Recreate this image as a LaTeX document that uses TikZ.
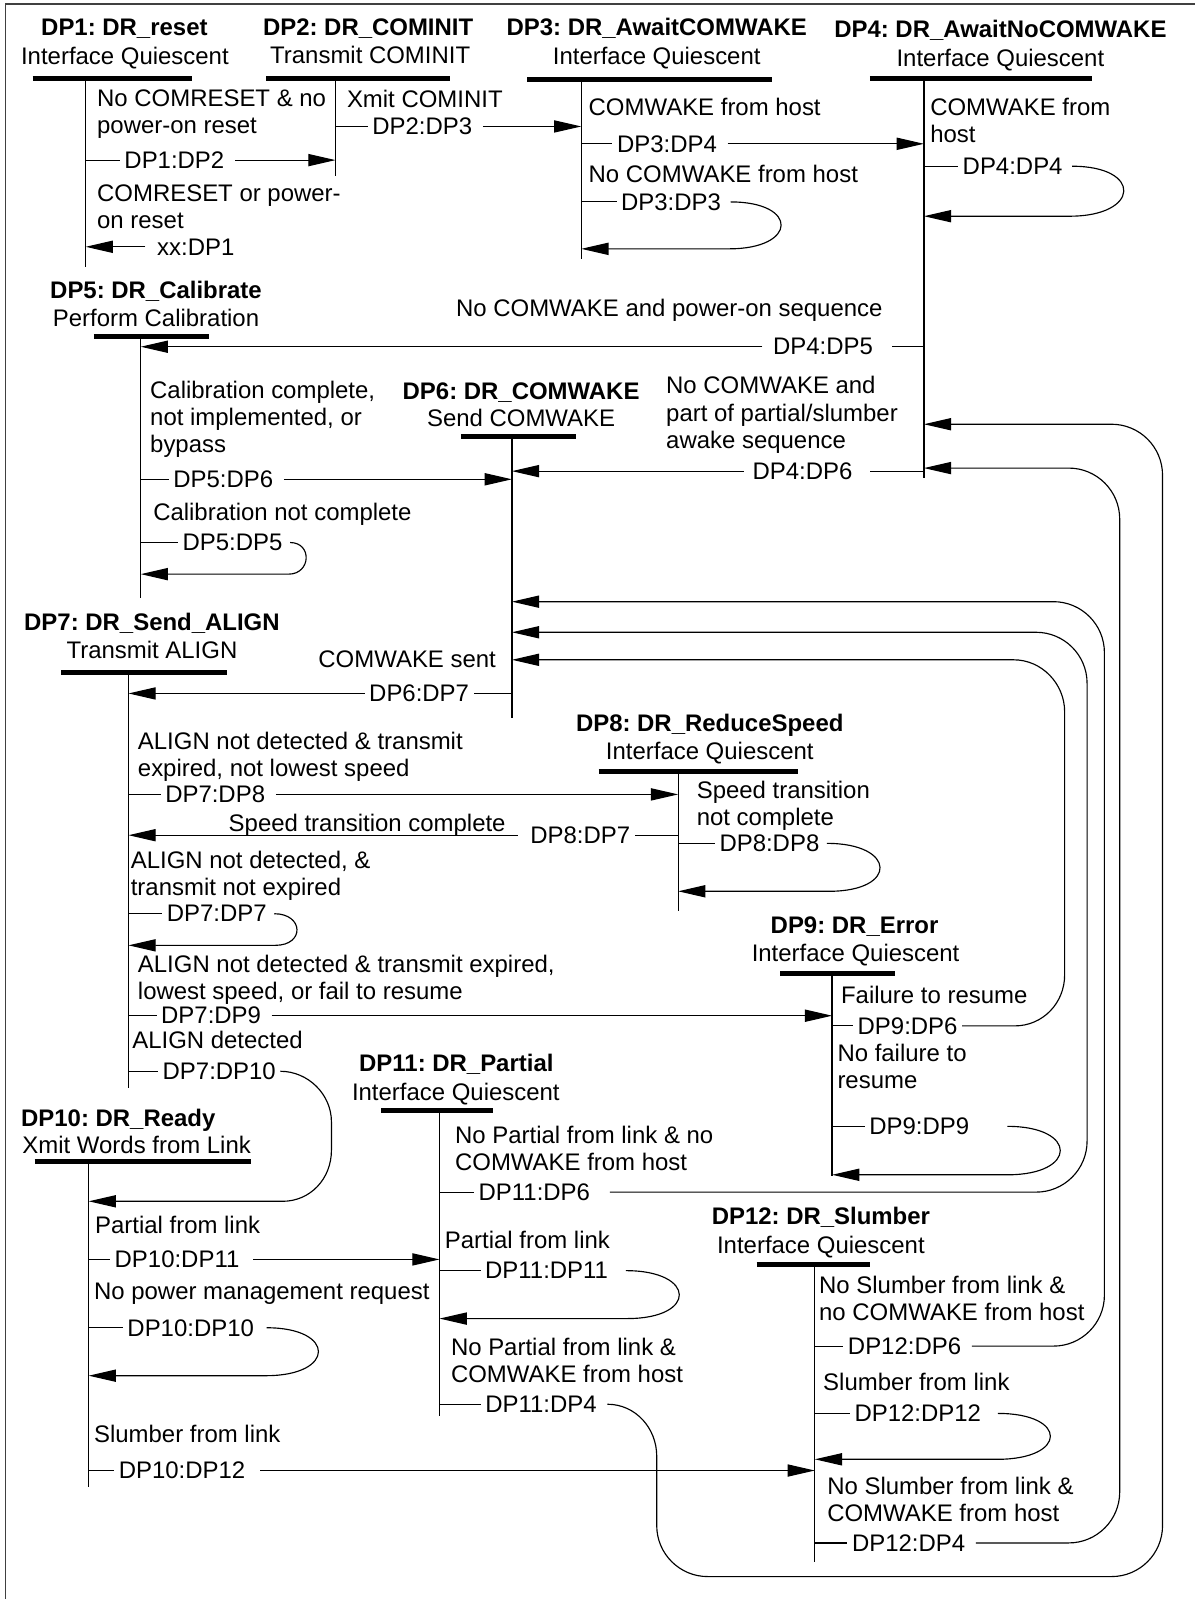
\documentclass[tikz,border=0pt]{standalone}
\usepackage{fontspec}
\setmainfont{Liberation Sans}
\usetikzlibrary{arrows.meta}
\frenchspacing
\tikzset{
    title/.style ={
        anchor=base,
        inner sep=0pt,
        font=\fontsize{16.7}{18.9}\selectfont\bfseries
    },
    sub/.style ={
        anchor=base,
        inner sep=0pt,
        font=\fontsize{16.7}{18.9}\selectfont
    },
    bar/.style ={
        line width=3.5pt
    },
    life/.style ={
        line width=0.9pt
    },
    cond/.style ={
        anchor=north west,
        align=left,
        inner sep=0pt,
        font=\fontsize{16.7}{18.9}\selectfont
    },
    tr/.style ={
        inner xsep=3pt,
        inner ysep=1pt,
        font=\fontsize{16.7}{18.9}\selectfont
    },
    link/.style ={
        line width=0.8pt
    },
    go/.style ={
        line width=0.8pt,
        -{Triangle[length=19pt,width=8.5pt]}
    }
}

\begin{document}
\frenchspacing
\begin{tikzpicture}[x=0.025cm,y=-0.025cm]
    \useasboundingbox (0,0) rectangle (1172,1568);
    \draw[line width=0.9pt,black!75] (5.5,1568) -- (5.5,4) -- (1172,4);

    % states: title, action, bar and lifeline
    \node[title] (t1) at (122,35) {DP1: DR\_reset};
    \node[sub] (s1) at (122.5,63) {Interface Quiescent};
    \coordinate (v1) at (84,77);
    \draw[bar] (32,77) -- (188,77);
    \draw[life] (v1) -- ++(0,185);

    \node[title] (t2) at (361,35) {DP2: DR\_COMINIT};
    \node[sub] (s2) at (363,62) {Transmit COMINIT};
    \coordinate (v2) at (329,77);
    \draw[bar] (261,77) -- (441,77);
    \draw[life] (v2) -- ++(0,96);

    \node[title] (t3) at (644,35) {DP3: DR\_AwaitCOMWAKE};
    \node[sub] (s3) at (644,63) {Interface Quiescent};
    \coordinate (v3) at (570,78);
    \draw[bar] (517,78) -- (757,78);
    \draw[life] (v3) -- ++(0,176);

    \node[title] (t4) at (981,37) {DP4: DR\_AwaitNoCOMWAKE};
    \node[sub] (s4) at (981,65) {Interface Quiescent};
    \coordinate (v4) at (906,77);
    \draw[bar] (853,77) -- (1071,77);
    \draw[life] (v4) -- ++(0,392);

    \node[title] (t5) at (153,293) {DP5: DR\_Calibrate};
    \node[sub] (s5) at (153,320) {Perform Calibration};
    \coordinate (v5) at (138,330);
    \draw[bar] (92,330) -- (205,330);
    \draw[life] (v5) -- ++(0,256);

    \node[title] (t6) at (511,392) {DP6: DR\_COMWAKE};
    \node[sub] (s6) at (511,418) {Send COMWAKE};
    \coordinate (v6) at (502,428);
    \draw[bar] (452,428) -- (565,428);
    \draw[life] (v6) -- ++(0,276);

    \node[title] (t7) at (149,618) {DP7: DR\_Send\_ALIGN};
    \node[sub] (s7) at (149,646) {Transmit ALIGN};
    \coordinate (v7) at (126,659);
    \draw[bar] (60,659) -- (223,659);
    \draw[life] (v7) -- ++(0,408);

    \node[title] (t8) at (696,717) {DP8: DR\_ReduceSpeed};
    \node[sub] (s8) at (696,745) {Interface Quiescent};
    \coordinate (v8) at (665,757);
    \draw[bar] (587,757) -- (783,757);
    \draw[life] (v8) -- ++(0,136);

    \node[title] (t9) at (838,915) {DP9: DR\_Error};
    \node[sub] (s9) at (839,943) {Interface Quiescent};
    \coordinate (v9) at (816,955);
    \draw[bar] (765,955) -- (878,955);
    \draw[life] (v9) -- ++(0,198);

    \node[title] (t10) at (116,1105) {DP10: DR\_Ready};
    \node[sub] (s10) at (134,1131) {Xmit Words from Link};
    \coordinate (v10) at (87,1139);
    \draw[bar] (34,1139) -- (246,1139);
    \draw[life] (v10) -- ++(0,319);

    \node[title] (t11) at (447.5,1051) {DP11: DR\_Partial};
    \node[sub] (s11) at (447,1079) {Interface Quiescent};
    \coordinate (v11) at (431,1089);
    \draw[bar] (374,1089) -- (483,1089);
    \draw[life] (v11) -- ++(0,300);

    \node[title] (t12) at (805,1201) {DP12: DR\_Slumber};
    \node[sub] (s12) at (805,1229) {Interface Quiescent};
    \coordinate (v12) at (799,1240);
    \draw[bar] (742,1240) -- (853,1240);
    \draw[life] (v12) -- ++(0,292);

    % DP1
    \node[cond] (c12) at (95,88) {No COMRESET \& no\\power-on reset};
    \node[tr] (dp1dp2) at (171,157) {DP1:DP2};
    \draw[link] (dp1dp2 -| v1) -- (dp1dp2);
    \draw[go] (dp1dp2.east) ++(6,0) -- (dp1dp2 -| v2);
    \node[cond] (cxx) at (95,181) {COMRESET or power-\\on reset};
    \node[tr] (xxdp1) at (192,242) {xx:DP1};
    \draw[go] (xxdp1.west) ++(-7,0) -- (xxdp1 -| v1);

    % DP2
    \node[cond] (c23) at (340,88) {Xmit COMINIT};
    \node[tr] (dp2dp3) at (414,124) {DP2:DP3};
    \draw[link] (dp2dp3 -| v2) -- (dp2dp3);
    \draw[go] (dp2dp3.east) ++(6,0) -- (dp2dp3 -| v3);

    % DP3
    \node[cond] (c34) at (577,96) {COMWAKE from host};
    \node[tr] (dp3dp4) at (654,141) {DP3:DP4};
    \draw[link] (dp3dp4 -| v3) -- (dp3dp4);
    \draw[go] (dp3dp4.east) ++(6,0) -- (dp3dp4 -| v4);
    \node[cond] (c33) at (577,162) {No COMWAKE from host};
    \node[tr] (dp3dp3) at (658,198) {DP3:DP3};
    \draw[link] (dp3dp3 -| v3) -- (dp3dp3);
    \draw[go] (dp3dp3.east) ++(5,0) .. controls +(67,0) and +(67,0) .. (715,244) -- (v3 |- 0,244);

    % DP4
    \node[cond] (c44) at (912,96) {COMWAKE from\\host};
    \node[tr] (dp4dp4) at (993,163) {DP4:DP4};
    \draw[link] (dp4dp4 -| v4) -- (dp4dp4);
    \draw[go] (dp4dp4.east) ++(5,0) .. controls +(69,0) and +(69,0) .. (1049,212) -- (v4 |- 0,212);
    \node[cond] (c45) at (447,293) {No COMWAKE and power-on sequence};
    \node[tr] (dp4dp5) at (807,340) {DP4:DP5};
    \draw[link] (dp4dp5 -| v4) -- ++(-31,0);
    \draw[go] (dp4dp5.west) ++(-6,0) -- (dp4dp5 -| v5);
    \node[cond] (c46) at (653,369) {No COMWAKE and\\part of partial/slumber\\awake sequence};
    \node[tr] (dp4dp6) at (787,462) {DP4:DP6};
    \draw[link] (dp4dp6 -| v4) -- ++(-53,0);
    \draw[go] (dp4dp6.west) ++(-4,0) -- (dp4dp6 -| v6);

    % DP5
    \node[cond] (c56) at (147,373) {Calibration complete,\\not implemented, or\\bypass};
    \node[tr] (dp5dp6) at (219,470) {DP5:DP6};
    \draw[link] (dp5dp6 -| v5) -- (dp5dp6);
    \draw[go] (dp5dp6.east) ++(6,0) -- (dp5dp6 -| v6);
    \node[cond] (c55) at (150,493) {Calibration not complete};
    \node[tr] (dp5dp5) at (228,532) {DP5:DP5};
    \draw[link] (dp5dp5 -| v5) -- (dp5dp5);
    \draw[go] (dp5dp5.east) ++(3,0) .. controls +(22,0) and +(22,0) .. (283,563) -- (v5 |- 0,563);

    % DP6
    \node[cond] (c67) at (312,638) {COMWAKE sent};
    \node[tr] (dp6dp7) at (411,680) {DP6:DP7};
    \draw[link] (dp6dp7 -| v6) -- (dp6dp7);
    \draw[go] (dp6dp7.west) -- (dp6dp7 -| v7);

    % DP7
    \node[cond] (c78) at (135,718) {ALIGN not detected \& transmit\\expired, not lowest speed};
    \node[tr] (dp7dp8) at (211,779) {DP7:DP8};
    \draw[link] (dp7dp8 -| v7) -- (dp7dp8);
    \draw[go] (dp7dp8.east) ++(6,0) -- (dp7dp8 -| v8);
    \node[cond] (c77) at (128,834) {ALIGN not detected, \&\\transmit not expired};
    \node[tr] (dp7dp7) at (212.5,896) {DP7:DP7};
    \draw[link] (dp7dp7 -| v7) -- (dp7dp7);
    \draw[go] (dp7dp7.east) ++(3,0) .. controls +(29,0) and +(29,0) .. (270,927) -- (v7 |- 0,927);
    \node[cond] (c79) at (135,936) {ALIGN not detected \& transmit expired,\\lowest speed, or fail to resume};
    \node[tr] (dp7dp9) at (207,996) {DP7:DP9};
    \draw[link] (dp7dp9 -| v7) -- (dp7dp9);
    \draw[go] (dp7dp9.east) ++(6,0) -- (dp7dp9 -| v9);
    \node[cond] (c710) at (129.5,1011) {ALIGN detected};
    \node[tr] (dp7dp10) at (215,1050.5) {DP7:DP10};
    \draw[link] (dp7dp10 -| v7) -- (dp7dp10);
    \draw[go] (dp7dp10.east) .. controls +(27,0) and +(0,-27) .. (325,1100) -- (325,1128)
        .. controls +(0,27.6) and +(27.6,0) .. (277,1178) -- (v10 |- 0,1178);

    % DP8
    \node[cond] (c87) at (224,798) {Speed transition complete};
    \node[tr] (dp8dp7) at (569,819) {DP8:DP7};
    \draw[link] (dp8dp7 -| v8) -- (dp8dp7);
    \draw[go] (dp8dp7.west) ++(-8,0) -- (dp8dp7 -| v7);
    \node[cond] (c88) at (683,766) {Speed transition\\not complete};
    \node[tr] (dp8dp8) at (754.5,827) {DP8:DP8};
    \draw[link] (dp8dp8 -| v8) -- (dp8dp8);
    \draw[go] (dp8dp8.east) ++(3,0) .. controls +(68,0) and +(68,0) .. (813,874) -- (v8 |- 0,874);

    % DP9
    \node[cond] (c96) at (824.5,967) {Failure to resume};
    \node[tr] (dp9dp6) at (890,1006) {DP9:DP6};
    \draw[link] (dp9dp6 -| v9) -- (dp9dp6);
    \draw[go] (dp9dp6.east) -- (995,1006) .. controls +(27.6,0) and +(0,27.6) .. (1044,956) -- (1044,698)
        .. controls +(0,-27.6) and +(27.6,0) .. (994,647) -- (v6 |- 0,647);
    \node[cond] (c99) at (821,1023.5) {No failure to\\resume};
    \node[tr] (dp9dp9) at (901.5,1104.5) {DP9:DP9};
    \draw[link] (dp9dp9 -| v9) -- (dp9dp9);
    \draw[go] (dp9dp9.east) ++(33,0) .. controls +(69,0) and +(69,0) .. (988,1152) -- (v9 |- 0,1152);

    % DP10
    \node[cond] (c1011) at (93,1192) {Partial from link};
    \node[tr] (dp10dp11) at (173.6,1235) {DP10:DP11};
    \draw[link] (dp10dp11 -| v10) -- (dp10dp11);
    \draw[go] (dp10dp11.east) ++(9,0) -- (dp10dp11 -| v11);
    \node[cond] (c1010) at (92,1258) {No power management request};
    \node[tr] (dp10dp10) at (187,1302) {DP10:DP10};
    \draw[link] (dp10dp10 -| v10) -- (dp10dp10);
    \draw[go] (dp10dp10.east) ++(8,0) .. controls +(68,0) and +(68,0) .. (261,1349) -- (v10 |- 0,1349);
    \node[cond] (c1012) at (92,1397) {Slumber from link};
    \node[tr] (dp10dp12) at (178.5,1442) {DP10:DP12};
    \draw[link] (dp10dp12 -| v10) -- (dp10dp12);
    \draw[go] (dp10dp12.east) ++(10,0) -- (dp10dp12 -| v12);

    % DP11
    \node[cond] (c116) at (446,1104) {No Partial from link \& no\\COMWAKE from host};
    \node[tr] (dp11dp6) at (524,1169) {DP11:DP6};
    \draw[link] (dp11dp6 -| v11) -- (dp11dp6);
    \draw[go] (dp11dp6.east) ++(15,0) -- (1016,1169) .. controls +(27.6,0) and +(0,27.6) .. (1066,1119) -- (1066,670)
        .. controls +(0,-27.6) and +(27.6,0) .. (1016,620) -- (v6 |- 0,620);
    \node[cond] (c1111) at (436,1207) {Partial from link};
    \node[tr] (dp11dp11) at (536,1246) {DP11:DP11};
    \draw[link] (dp11dp11 -| v11) -- (dp11dp11);
    \draw[go] (dp11dp11.east) ++(13,0) .. controls +(69,0) and +(69,0) .. (615,1293) -- (v11 |- 0,1293);
    \node[cond] (c114) at (442,1312) {No Partial from link \&\\COMWAKE from host};
    \node[tr] (dp11dp4) at (530.5,1377) {DP11:DP4};
    \draw[link] (dp11dp4 -| v11) -- (dp11dp4);
    \draw[go] (dp11dp4.east) ++(6,0) .. controls +(27.6,0) and +(0,-27.6) .. (644,1428) -- (644,1496)
        .. controls +(0,27.6) and +(-27.6,0) .. (694,1546) -- (1090,1546)
        .. controls +(27.6,0) and +(0,27.6) .. (1140,1496) -- (1140,466)
        .. controls +(0,-27.6) and +(27.6,0) .. (1090,416) -- (v4 |- 0,416);

    % DP12
    \node[cond] (c126) at (803,1251) {No Slumber from link \&\\no COMWAKE from host};
    \node[tr] (dp12dp6) at (887,1320) {DP12:DP6};
    \draw[link] (dp12dp6 -| v12) -- (dp12dp6);
    \draw[go] (dp12dp6.east) ++(6,0) -- (1033,1320) .. controls +(27.6,0) and +(0,27.6) .. (1083,1270) -- (1083,640)
        .. controls +(0,-27.6) and +(27.6,0) .. (1033,590) -- (v6 |- 0,590);
    \node[cond] (c1212) at (807,1346) {Slumber from link};
    \node[tr] (dp12dp12) at (900,1386) {DP12:DP12};
    \draw[link] (dp12dp12 -| v12) -- (dp12dp12);
    \draw[go] (dp12dp12.east) ++(12,0) .. controls +(69,0) and +(69,0) .. (978,1431) -- (v12 |- 0,1431);
    \node[cond] (c124) at (811,1448) {No Slumber from link \&\\COMWAKE from host};
    \node[tr] (dp12dp4) at (891,1513) {DP12:DP4};
    \draw[link] (dp12dp4 -| v12) -- (dp12dp4);
    \draw[go] (dp12dp4.east) ++(6,0) -- (1048,1513) .. controls +(27.6,0) and +(0,27.6) .. (1098,1463) -- (1098,509)
        .. controls +(0,-27.6) and +(27.6,0) .. (1048,459) -- (v4 |- 0,459);
\end{tikzpicture}
\end{document}
